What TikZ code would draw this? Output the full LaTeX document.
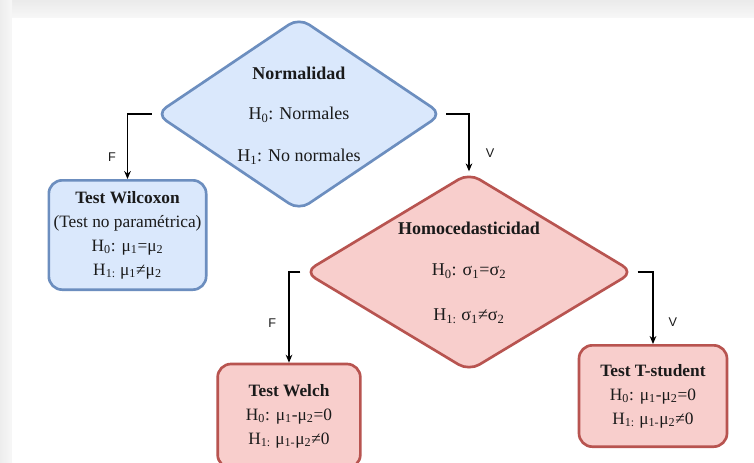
\documentclass[tikz,border=0pt]{standalone}
\usepackage{fontspec}
\setmainfont{Liberation Serif}
\setsansfont{Liberation Sans}
\usetikzlibrary{arrows.meta,shapes.geometric}
\definecolor{fillblue}{RGB}{218,232,252}
\definecolor{lineblue}{RGB}{108,142,191}
\definecolor{fillred}{RGB}{248,206,204}
\definecolor{linered}{RGB}{184,84,80}
\definecolor{inkgray}{RGB}{26,26,26}
\newcommand{\sbx}[1]{\textsubscript{#1}}

\begin{document}
\begin{tikzpicture}[x=0.75pt, y=-0.75pt,
  dec/.style={draw, diamond, rounded corners=9pt, line width=2pt, inner sep=0pt},
  box/.style={draw, rectangle, rounded corners=10pt, line width=2pt, align=center, inner sep=2pt, text=inkgray, font=\fontsize{13}{18}\selectfont},
  txt/.style={text=inkgray, font=\fontsize{13.5}{16}\selectfont},
  ttl/.style={text=inkgray, font=\fontsize{13.5}{16}\selectfont\bfseries},
  arr/.style={-{Stealth[length=6pt,width=5pt]}, line width=0.8pt, shorten <=2pt},
  lbl/.style={text=inkgray, font=\sffamily\fontsize{9.5}{11}\selectfont}
]
\useasboundingbox (0,0) rectangle (754,462);
% fondo (tarjeta con sombra)
\shade[top color=black!8, bottom color=black!3] (0,0) rectangle (754,18);
\shade[left color=black!7, right color=black!3] (0,0) rectangle (12,462);
\fill[white] (12,18) rectangle (754,462);

% Normalidad
\node[dec, fill=fillblue, draw=lineblue, minimum width=215pt, minimum height=145pt] (norm) at (299,114) {};
\node[ttl] (normT) at (299,73) {Normalidad};
\node[txt] (normH0) at (299,115) {H\sbx{0}: Normales};
\node[txt] (normH1) at (299,157) {H\sbx{1}: No normales};

% Homocedasticidad
\node[dec, fill=fillred, draw=linered, minimum width=247pt, minimum height=149pt] (homo) at (469,272) {};
\node[ttl] (homoT) at (469,228) {Homocedasticidad};
\node[txt] (homoH0) at (469,271) {H\sbx{0}: σ\sbx{1}=σ\sbx{2}};
\node[txt] (homoH1) at (469,316) {H\sbx{1:} σ\sbx{1}≠σ\sbx{2}};

% Tests
\node[box, fill=fillblue, draw=lineblue, minimum width=118pt, minimum height=82pt] (wilc) at (127.5,235)
  {\textbf{Test Wilcoxon}\\(Test no paramétrica)\\H\sbx{0}: μ\sbx{1}=μ\sbx{2}\\H\sbx{1:} μ\sbx{1}≠μ\sbx{2}};
\node[box, fill=fillred, draw=linered, minimum width=107pt, minimum height=78pt] (welch) at (289,416)
  {\textbf{Test Welch}\\H\sbx{0}: μ\sbx{1}-μ\sbx{2}=0\\H\sbx{1:} μ\sbx{1-}μ\sbx{2}≠0};
\node[box, fill=fillred, draw=linered, minimum width=111pt, minimum height=76pt] (tstud) at (653,396)
  {\textbf{Test T-student}\\H\sbx{0}: μ\sbx{1}-μ\sbx{2}=0\\H\sbx{1:} μ\sbx{1-}μ\sbx{2}≠0};

% conectores
\draw[arr] (norm.west) -| node[lbl, pos=0.83, left=5pt] (normF) {F} (wilc.north);
\draw[arr] (norm.east) -| node[lbl, pos=0.84, right=9pt] (normV) {V} (homo.north);
\draw[arr] (homo.west) -| node[lbl, pos=0.78, left=6pt] (homoF) {F} (welch.north);
\draw[arr] (homo.east) -| node[lbl, pos=0.85, right=8pt] (homoV) {V} (tstud.north);
\end{tikzpicture}
\end{document}
